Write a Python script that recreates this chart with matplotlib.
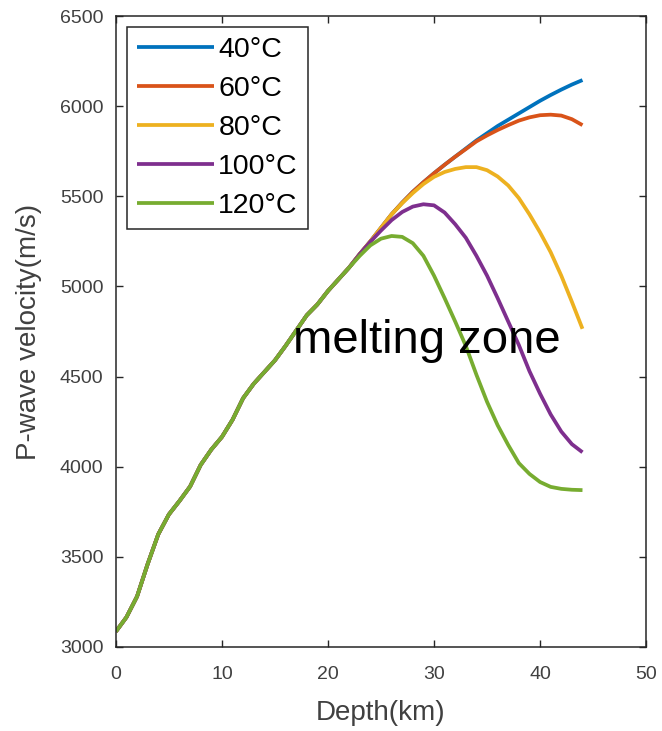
import matplotlib
matplotlib.use("Agg")
from matplotlib import pyplot as plt

plt.rcParams['font.family'] = ['Liberation Sans', 'DejaVu Sans']

depth = list(range(45))  # km

# shared part of the curves (0-22 km)
base = [3085, 3165, 3280, 3460, 3625, 3735, 3810, 3890, 4010, 4095,
        4165, 4260, 4380, 4460, 4525, 4590, 4670, 4755, 4840, 4900,
        4975, 5040, 5105]

#velocity past 22 km for each temperature
tail_40 = [5180, 5250, 5325, 5400, 5465, 5525, 5578, 5628, 5675, 5720,
           5765, 5810, 5850, 5890, 5925, 5960, 5995, 6030, 6062, 6092,
           6120, 6145]
tail_60 = [5180, 5250, 5325, 5400, 5465, 5525, 5578, 5628, 5675, 5720,
           5762, 5805, 5838, 5868, 5895, 5920, 5938, 5950, 5953, 5948,
           5928, 5895]
tail_80 = [5180, 5250, 5325, 5400, 5462, 5518, 5568, 5608, 5635, 5652,
           5662, 5662, 5645, 5610, 5560, 5490, 5400, 5300, 5190, 5060,
           4915, 4765]
tail_100 = [5180, 5248, 5310, 5368, 5413, 5443, 5456, 5450, 5410, 5345,
            5270, 5170, 5060, 4935, 4805, 4675, 4530, 4405, 4290, 4195,
            4125, 4080]
tail_120 = [5170, 5228, 5265, 5280, 5275, 5240, 5170, 5060, 4935, 4805,
            4670, 4510, 4360, 4230, 4120, 4020, 3960, 3915, 3888, 3877,
            3872, 3870]

labels = ['40°C', '60°C', '80°C', '100°C', '120°C']
colors = ['#0072BD', '#D95319', '#EDB120', '#7E2F8E', '#77AC30']
tails = [tail_40, tail_60, tail_80, tail_100, tail_120]

fig = plt.figure(figsize=(6.62, 7.31), dpi=100)
ax = fig.add_axes([0.175, 0.115, 0.801, 0.863])

for lab, col, tail in zip(labels, colors, tails):
    ax.plot(depth, base + tail, color=col, lw=2.7, label=lab,
            solid_joinstyle='round', solid_capstyle='butt')

ax.text(16.7, 4700, 'melting zone', fontsize=34, color='black', va='center', ha='left')

ax.set_xlim(0, 50)
ax.set_ylim(3000, 6500)
ax.set_xticks([0, 10, 20, 30, 40, 50])
ax.set_yticks(range(3000, 6501, 500))

axcol = '#404040'
ax.tick_params(direction='in', top=True, right=True, length=5, width=1,
               color='#262626', labelcolor=axcol, labelsize=14)
ax.tick_params(axis='x', pad=14)
ax.tick_params(axis='y', pad=9)
for s in ax.spines.values():
    s.set_color('#262626')
    s.set_linewidth(1.1)

ax.set_xlabel('Depth(km)', fontsize=20, color=axcol, labelpad=12)
ax.set_ylabel('P-wave velocity(m/s)', fontsize=20, color=axcol, labelpad=13)

leg = ax.legend(loc='upper left', fontsize=20.5, handlelength=2.7, handletextpad=0.15,
                labelspacing=0.45, borderpad=0.35, borderaxespad=0.4,
                fancybox=False, framealpha=1)
leg.get_frame().set_edgecolor('#262626')
leg.get_frame().set_linewidth(1.1)

plt.savefig('out.png', dpi=100)
